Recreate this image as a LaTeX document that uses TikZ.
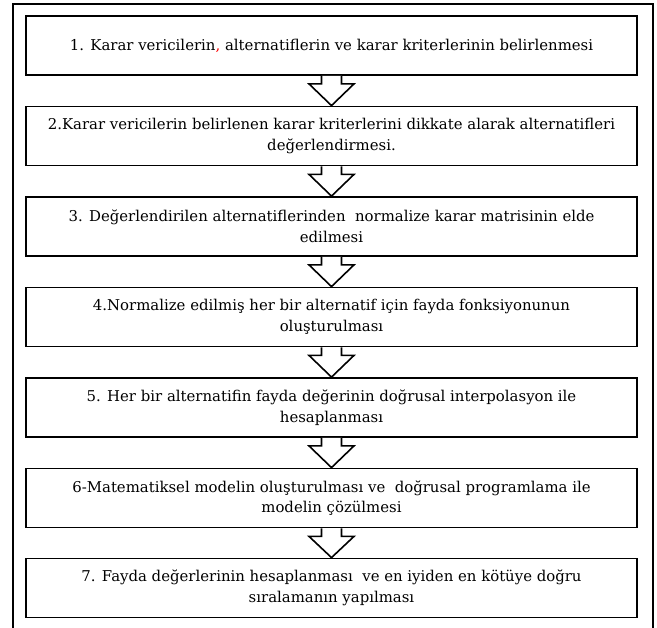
\documentclass[tikz,border=0pt]{standalone}
\usepackage{fontspec}
\setmainfont{DejaVu Serif}
\usetikzlibrary{calc}
\begin{document}
\begin{tikzpicture}[x=1pt,y=-1pt,
  stepbox/.style={draw=black, line width=1.8pt, fill=white, minimum width=611pt, minimum height=59pt,
    inner sep=0pt, align=center, font=\fontsize{14.9}{20.5}\selectfont},
  downarr/.style={draw=black, line width=1.6pt, fill=white, line join=miter},
  frame/.style={draw=black, line width=2pt}]
\useasboundingbox (0,0) rectangle (657,628);
\draw[frame] (12.7,640) -- (12.7,4) -- (653,4) -- (653,640);
\node[stepbox] (b1) at (331.5,45.5) {1. Karar vericilerin{\color{red},} alternatiflerin ve karar kriterlerinin belirlenmesi};
\node[stepbox] (b2) at (331.5,136) {2.Karar vericilerin belirlenen karar kriterlerini dikkate alarak alternatifleri\\değerlendirmesi.};
\node[stepbox] (b3) at (331.5,226.5) {3. Değerlendirilen alternatiflerinden \ normalize karar matrisinin elde\\edilmesi};
\node[stepbox] (b4) at (331.5,317) {4.Normalize edilmiş her bir alternatif için fayda fonksiyonunun\\oluşturulması};
\node[stepbox] (b5) at (331.5,407.5) {5. Her bir alternatifin fayda değerinin doğrusal interpolasyon ile\\hesaplanması};
\node[stepbox] (b6) at (331.5,498) {6-Matematiksel modelin oluşturulması ve \ doğrusal programlama ile\\modelin çözülmesi};
\node[stepbox] (b7) at (331.5,588) {7. Fayda değerlerinin hesaplanması \ ve en iyiden en kötüye doğru\\sıralamanın yapılması};
\foreach \a/\b in {b1/b2,b2/b3,b3/b4,b4/b5,b5/b6,b6/b7}{
  \draw[downarr] ($(\a.south)+(-10,0)$) -- ++(0,8) -- ++(-12.5,0) -- (\b.north) -- ($(\a.south)+(22.5,8)$) -- ++(-12.5,0) -- ($(\a.south)+(10,0)$);
}
\end{tikzpicture}
\end{document}
